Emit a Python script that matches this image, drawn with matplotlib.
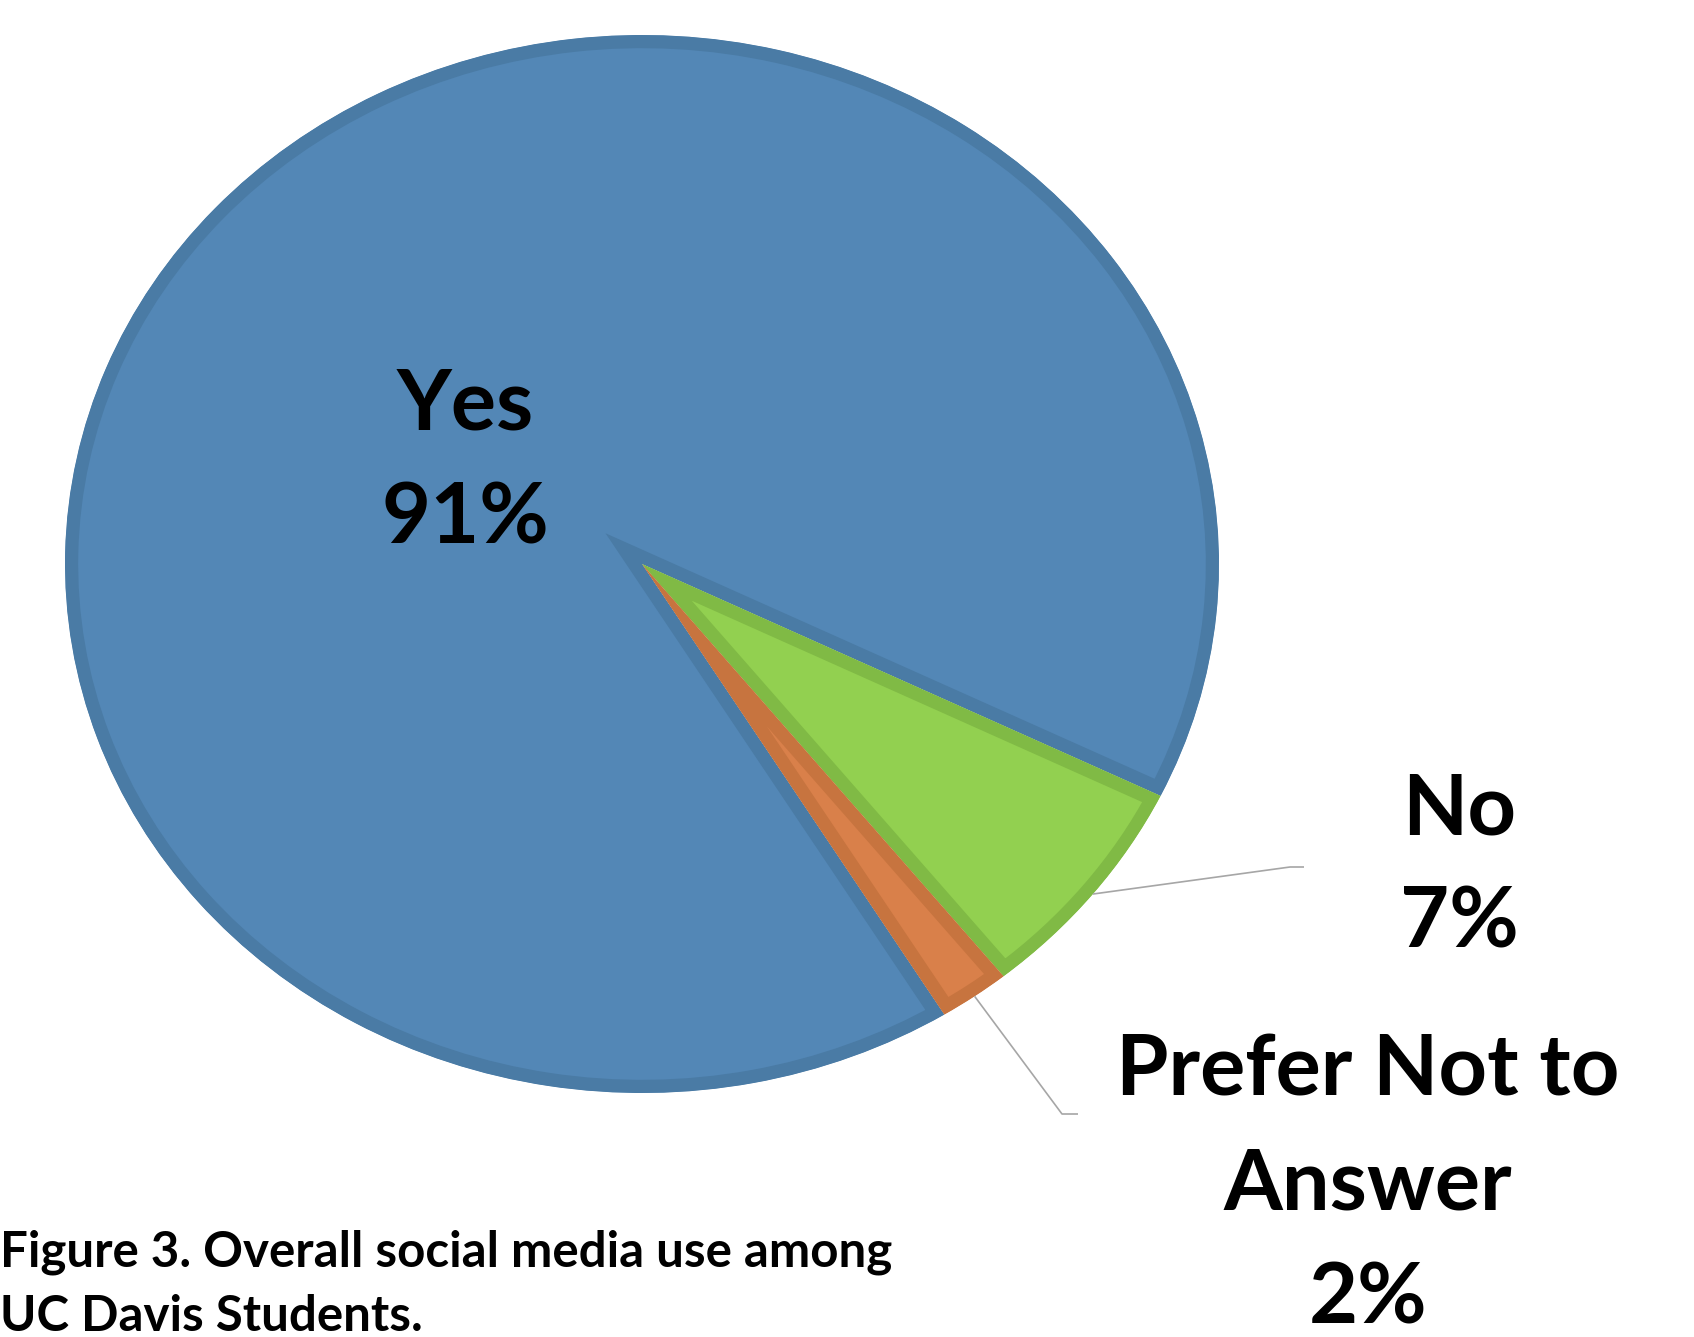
import matplotlib
matplotlib.use("Agg")
import matplotlib.pyplot as plt
import numpy as np

# ---- data ----
categories = ["Yes", "No", "Prefer Not to\nAnswer"]
values = [91, 7, 2]
pct_labels = ["91%", "7%", "2%"]
caption = "Figure 3. Overall social media use among\nUC Davis Students."

fills = ["#5387B6", "#92D050", "#D9804A"]
edges = ["#4A7BA5", "#80BA45", "#C7743F"]

W, H, DPI = 1694, 1337, 100
fig = plt.figure(figsize=(W / DPI, H / DPI), dpi=DPI)
fig.patch.set_facecolor("white")

FONT = ["Lato", "DejaVu Sans"]

# pie axes: bounding box of the (slightly squashed) pie, in pixels (top-left origin)
px0, py0, px1, py1 = 65, 35, 1219, 1093
ax = fig.add_axes([px0 / W, 1 - py1 / H, (px1 - px0) / W, (py1 - py0) / H])
wedges, _ = ax.pie(values, colors=fills, startangle=301.6, counterclock=False,
                   radius=1, center=(0, 0),
                   wedgeprops=dict(linewidth=19, joinstyle="miter"))
for w, ec in zip(wedges, edges):
    w.set_edgecolor(ec)
    w.set_clip_on(True)
    w.set_clip_path(w)  # inner stroke
ax.set_aspect("auto")
ax.set_xlim(-1, 1)
ax.set_ylim(-1, 1)
ax.axis("off")

# overlay axes in pixel coordinates (top-left origin)
ov = fig.add_axes([0, 0, 1, 1], zorder=5)
ov.set_xlim(0, W)
ov.set_ylim(H, 0)
ov.axis("off")
ov.patch.set_alpha(0)

def pie_point(i, r=1.0):
    w = wedges[i]
    th = np.deg2rad((w.theta1 + w.theta2) / 2)
    disp = ax.transData.transform((r * np.cos(th), r * np.sin(th)))
    return ov.transData.inverted().transform(disp)

big = dict(fontsize=61, fontweight="bold", family=FONT, color="black",
           ha="center", va="baseline", linespacing=1.58, multialignment="center")

# labels (va=baseline aligns the last line's baseline)
ov.text(465, 543, f"{categories[0]}\n{pct_labels[0]}", **big)
ov.text(1459, 948, f"{categories[1]}\n{pct_labels[1]}", **big)
ov.text(1368, 1323, f"{categories[2]}\n{pct_labels[2]}", **big)

# leader lines
lc = "#A6A6A6"
s = pie_point(1)
ov.plot([s[0], 1290, 1304], [s[1], 867, 867], color=lc, lw=1.2, solid_capstyle="butt")
s = pie_point(2)
ov.plot([s[0], 1062, 1078], [s[1], 1114, 1114], color=lc, lw=1.2, solid_capstyle="butt")

# caption
ov.text(0, 1331, caption, fontsize=35.5, fontweight="bold", family=FONT, color="black",
        ha="left", va="baseline", linespacing=1.52)

fig.savefig("out.png", dpi=DPI, facecolor="white")
